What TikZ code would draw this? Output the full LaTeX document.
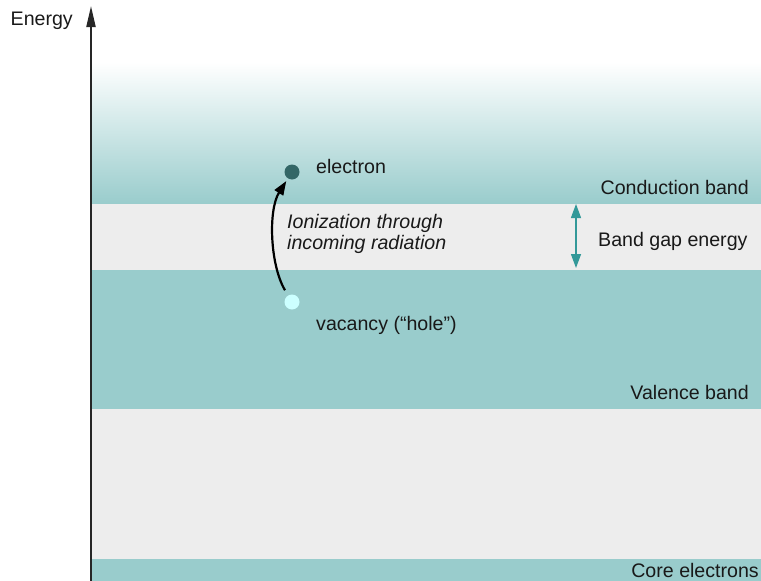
\documentclass[tikz,border=0pt]{standalone}
\usepackage{fontspec}
\setmainfont{Liberation Sans}
\usetikzlibrary{arrows.meta}
\definecolor{bandteal}{HTML}{99CCCC}
\definecolor{gapgrey}{HTML}{EDEDED}
\definecolor{electroncol}{HTML}{336666}
\definecolor{holecol}{HTML}{CCFFFF}
\definecolor{gaparrow}{HTML}{339999}
\tikzset{
  label text/.style={font=\fontsize{19.6}{21}\selectfont, inner sep=0pt, text=black!90},
  particle/.style={circle, minimum size=15pt, inner sep=0pt},
}
\begin{document}
\begin{tikzpicture}[x=1pt,y=-1pt]
        \useasboundingbox (0,0) rectangle (761,581);
        % bands
        \shade[top color=white, bottom color=bandteal] (92,62) rectangle (761,204);
        \fill[gapgrey] (92,204) rectangle (761,270);
        \fill[bandteal] (92,270) rectangle (761,409);
        \fill[gapgrey] (92,409) rectangle (761,559);
        \fill[bandteal] (92,559) rectangle (761,581);
        % energy axis
        \coordinate (axis bottom) at (91,581);
        \coordinate (axis top) at (91,6);
        \draw[-{Triangle[length=21pt,width=9pt]}, line width=2pt, black!85] (axis bottom) -- (axis top);
        \node[label text, anchor=base east] (energy) at (73,25) {Energy};
        % electron and hole
        \node[particle, fill=electroncol] (electron) at (292,172) {};
        \node[particle, fill=holecol] (hole) at (292,302) {};
        \node[label text, anchor=base west] (electron label) at (316,173) {electron};
        \node[label text, anchor=base west] (hole label) at (316,330) {vacancy (“hole”)};
        \draw[-{Triangle[length=14pt,width=10pt]}, line width=2.2pt, shorten <=6pt, shorten >=3pt]
            (hole) .. controls (270,265) and (268,210) .. (electron);
        \node[label text, anchor=north west, align=left, font=\fontsize{19.6}{21}\selectfont\itshape]
            (ionization) at (287,214) {Ionization through\\incoming radiation};
        % band gap
        \coordinate (gap top) at (576,204);
        \coordinate (gap bottom) at (576,268);
        \draw[{Triangle[length=14pt,width=10pt]}-{Triangle[length=14pt,width=10pt]}, gaparrow, line width=1.3pt] (gap top) -- (gap bottom);
        \node[label text, anchor=base west] (gap label) at (598,246) {Band gap energy};
        % band names
        \node[label text, anchor=base east] (conduction) at (749,194) {Conduction band};
        \node[label text, anchor=base east] (valence) at (749,399) {Valence band};
        \node[label text, anchor=base east] (core) at (759,577) {Core electrons};
    \end{tikzpicture}
\end{document}
